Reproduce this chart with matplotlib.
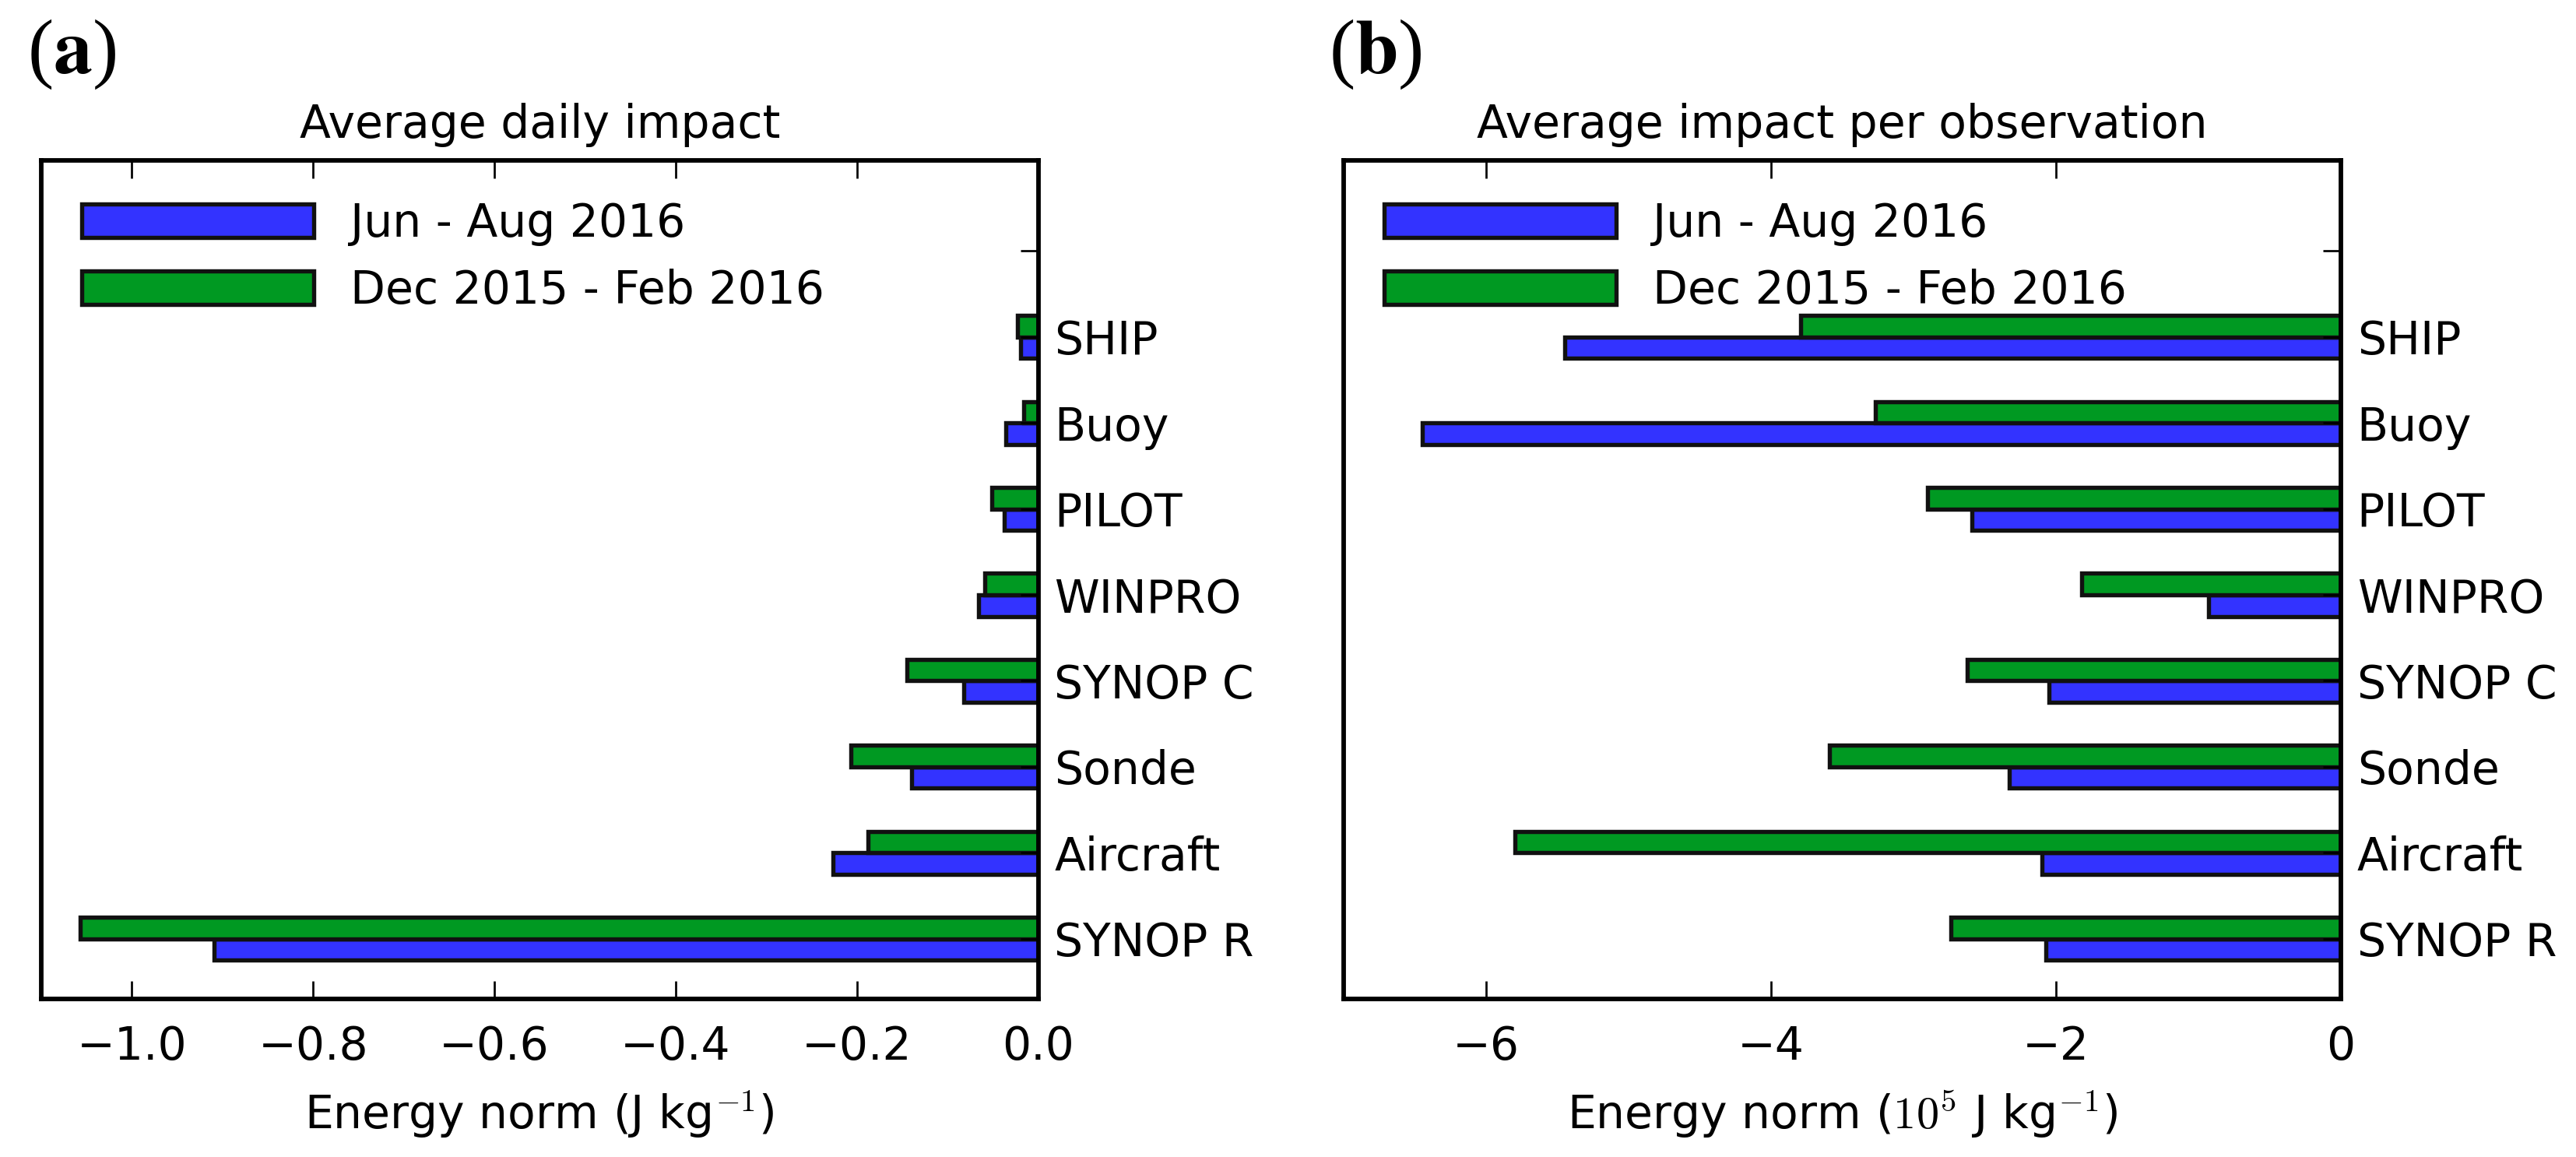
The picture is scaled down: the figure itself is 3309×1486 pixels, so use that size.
import numpy as np
import matplotlib
matplotlib.use("Agg")
from matplotlib import pyplot as plt

# categories from bottom to top
categories = ["SYNOP R", "Aircraft", "Sonde", "SYNOP C", "WINPRO", "PILOT", "Buoy", "SHIP"]
series_names = ["Jun - Aug 2016", "Dec 2015 - Feb 2016"]

# (a) average daily impact, J/kg
daily_summer = [-0.909, -0.226, -0.140, -0.082, -0.066, -0.037, -0.036, -0.019]
daily_winter = [-1.057, -0.188, -0.207, -0.145, -0.059, -0.051, -0.016, -0.023]

# (b) average impact per observation, 1e5 J/kg
perobs_summer = [-2.07, -2.10, -2.33, -2.05, -0.93, -2.59, -6.45, -5.45]
perobs_winter = [-2.74, -5.80, -3.59, -2.62, -1.82, -2.90, -3.27, -3.79]

blue = "#3333ff"
green = "#009922"

plt.rcParams["font.family"] = ["DejaVu Sans"]
plt.rcParams["mathtext.fontset"] = "cm"
plt.rcParams["font.size"] = 14


def panel(ax, summer, winter, title, xlabel, xlim, xticks, xticklabels):
    y = np.arange(len(categories))
    h = 0.25
    ax.barh(y - h / 2, summer, height=h, color=blue, edgecolor="#111111",
            linewidth=1.3, label=series_names[0])
    ax.barh(y + h / 2, winter, height=h, color=green, edgecolor="#111111",
            linewidth=1.3, label=series_names[1])
    ax.set_xlim(*xlim)
    ax.set_ylim(-0.7, 9.05)
    ax.set_xticks(xticks)
    ax.set_xticklabels(xticklabels)
    ax.set_yticks(list(y) + [8])
    ax.set_yticklabels(categories + [""])
    ax.tick_params(axis="y", left=False, right=True, labelleft=False, labelright=True,
                   direction="in", length=5.6, width=0.65, pad=5, labelsize=14)
    ax.tick_params(axis="x", top=True, bottom=True, direction="in",
                   length=5.6, width=0.65, pad=8, labelsize=14)
    for s in ax.spines.values():
        s.set_linewidth(1.4)
    ax.set_title(title, fontsize=14, pad=7)
    ax.set_xlabel(xlabel, fontsize=14, labelpad=6)
    ax.legend(loc="upper left", frameon=False, handlelength=5.1, handleheight=0.75,
              fontsize=14, labelspacing=0.5, borderaxespad=0.5)


fig = plt.figure(figsize=(3309 / 300, 1486 / 300), dpi=300)
ax1 = fig.add_axes([0.016, 0.1366, 0.387, 0.7245])
ax2 = fig.add_axes([0.5216, 0.1366, 0.3871, 0.7245])

panel(ax1, daily_summer, daily_winter, "Average daily impact",
      r"Energy norm (J kg$^{-1}$)", (-1.1, 0.0),
      [-1.0, -0.8, -0.6, -0.4, -0.2, 0.0],
      ["\u22121.0", "\u22120.8", "\u22120.6", "\u22120.4", "\u22120.2", "0.0"])
panel(ax2, perobs_summer, perobs_winter, "Average impact per observation",
      r"Energy norm ($10^5$ J kg$^{-1}$)", (-7.0, 0.0),
      [-6, -4, -2, 0], ["\u22126", "\u22124", "\u22122", "0"])

fig.text(35 / 3309, 1 - 94 / 1486, r"($\mathbf{a}$)", fontsize=24,
         family="Liberation Serif", math_fontfamily="stix", va="baseline", ha="left")
fig.text(1707 / 3309, 1 - 94 / 1486, r"($\mathbf{b}$)", fontsize=24,
         family="Liberation Serif", math_fontfamily="stix", va="baseline", ha="left")

fig.savefig("out.png", dpi=300)
